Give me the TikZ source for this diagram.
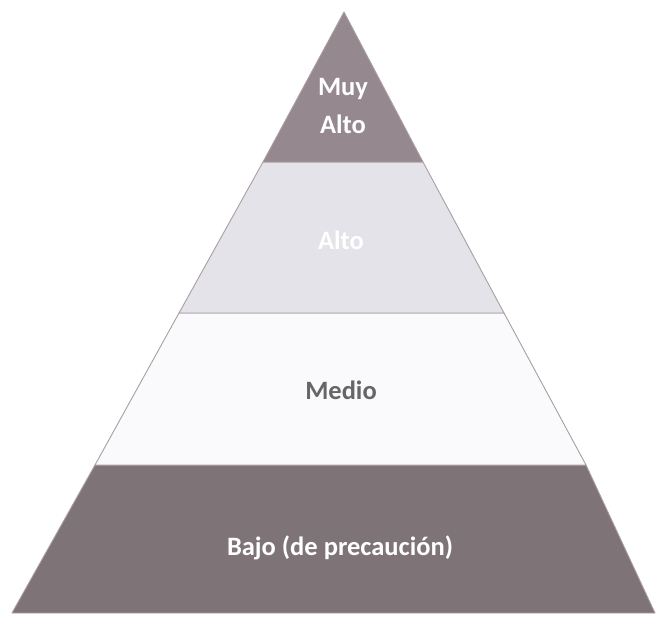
\documentclass[tikz,border=0pt]{standalone}
\usepackage{fontspec}
\setmainfont{Carlito}
\usepackage{xcolor}
\usetikzlibrary{calc}

\definecolor{topband}{RGB}{149,137,143}
\definecolor{highband}{RGB}{228,227,233}
\definecolor{midband}{RGB}{250,250,252}
\definecolor{lowband}{RGB}{126,116,120}
\definecolor{edgeline}{RGB}{170,158,162}

\begin{document}
\begin{tikzpicture}[
  x=1pt, y=-1pt,
  font=\fontsize{26.5}{32}\selectfont\bfseries,
  band/.style={fill=#1, draw=edgeline, line width=0.9pt, line join=round},
  lvl/.style={align=center, text=white, inner sep=0pt},
  darklvl/.style={lvl, text=black!60}
]
  \useasboundingbox[fill=white] (0,0) rectangle (657,619);

  % corners of the bands
  \coordinate (apex) at (344,12);
  \coordinate (l1) at (263,162); \coordinate (r1) at (423,162);
  \coordinate (l2) at (179,313); \coordinate (r2) at (504,313);
  \coordinate (l3) at (95,465);  \coordinate (r3) at (586,465);
  \coordinate (l4) at (12,613);  \coordinate (r4) at (655,613);

  \path[band=lowband] (l3) -- (r3) -- (r4) -- (l4) -- cycle;
  \path[band=midband] (l2) -- (r2) -- (r3) -- (l3) -- cycle;
  \path[band=highband] (l1) -- (r1) -- (r2) -- (l2) -- cycle;
  \path[band=topband] (apex) -- (r1) -- (l1) -- cycle;

  \node[lvl] (muyalto) at (343,106) {Muy\\[6pt]Alto};
  \node[lvl] (alto) at (341,240) {Alto};
  \node[darklvl] (medio) at (341,390) {Medio};
  \node[lvl] (bajo) at (340,548) {Bajo (de precaución)};
\end{tikzpicture}
\end{document}
